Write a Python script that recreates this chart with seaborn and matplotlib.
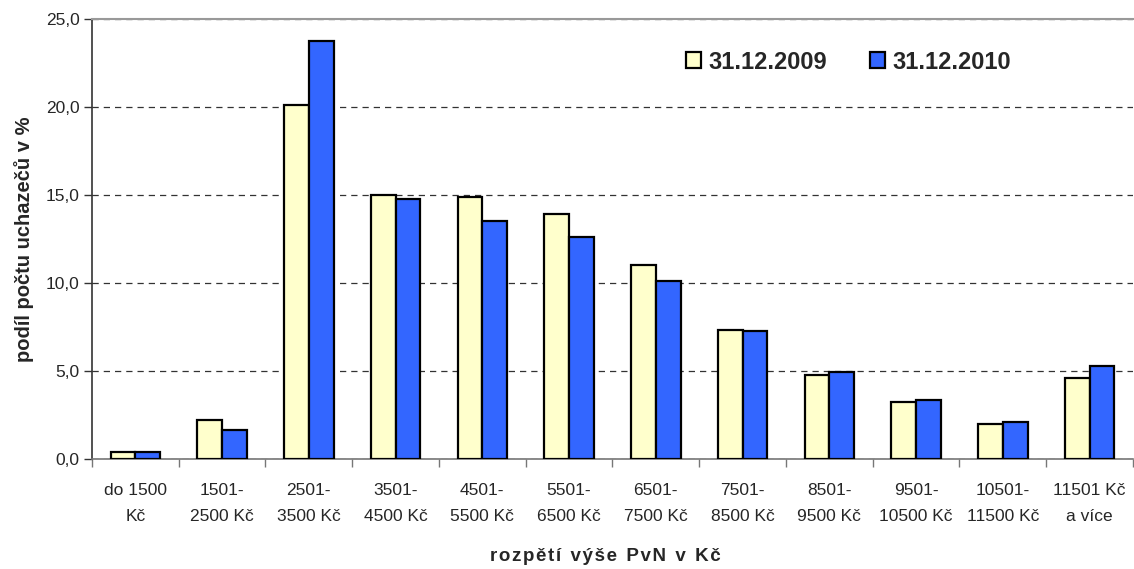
import numpy as np
import pandas as pd
import matplotlib
matplotlib.use("Agg")
import matplotlib.pyplot as plt
import seaborn as sns
from matplotlib.ticker import FuncFormatter, FixedLocator

categories = ["do 1500\nKč", "1501-\n2500 Kč", "2501-\n3500 Kč", "3501-\n4500 Kč",
              "4501-\n5500 Kč", "5501-\n6500 Kč", "6501-\n7500 Kč", "7501-\n8500 Kč",
              "8501-\n9500 Kč", "9501-\n10500 Kč", "10501-\n11500 Kč", "11501 Kč\na více"]
values_2009 = [0.4, 2.2, 20.1, 15.0, 14.9, 13.9, 11.0, 7.35, 4.75, 3.25, 2.0, 4.6]
values_2010 = [0.4, 1.65, 23.75, 14.8, 13.5, 12.6, 10.1, 7.25, 4.95, 3.35, 2.1, 5.3]
series = ["31.12.2009", "31.12.2010"]
colors = ["#FFFFCC", "#3366FF"]

df = pd.DataFrame({
    "kategorie": categories * 2,
    "podil": values_2009 + values_2010,
    "stav": [series[0]] * len(categories) + [series[1]] * len(categories),
})

sns.set_style("white")
plt.rcParams["font.family"] = ["Liberation Sans", "DejaVu Sans"]

fig = plt.figure(figsize=(11.34, 5.69), dpi=100)
ax = fig.add_axes([0.0811, 0.1933, 0.918, 0.7733])

sns.barplot(data=df, x="kategorie", y="podil", hue="stav", palette=colors,
            saturation=1, width=0.57, edgecolor="black", linewidth=1.6,
            ax=ax, zorder=3)

ax.set_ylim(0, 25)
ax.set_xlim(-0.5, len(categories) - 0.5)
ax.set_yticks(np.arange(0, 26, 5))
ax.yaxis.set_major_formatter(FuncFormatter(lambda v, p: f"{v:.1f}".replace(".", ",")))
ax.yaxis.grid(True, linestyle=(0, (5, 4)), color="#333333", linewidth=0.9, zorder=0)
ax.xaxis.grid(False)

ax.set_xticks(range(len(categories)))
ax.set_xticklabels(categories)
ax.tick_params(axis="y", left=True, length=6, width=1, color="#333333",
               labelsize=12.5, pad=3)
ax.tick_params(axis="x", which="major", length=0, labelsize=12.5, pad=17)
ax.xaxis.set_minor_locator(FixedLocator(np.arange(-0.5, len(categories), 1)))
ax.tick_params(axis="x", which="minor", bottom=True, length=6, width=1, color="#777777")

ax.spines["left"].set_color("#333333")
ax.spines["left"].set_linewidth(1.2)
ax.spines["bottom"].set_color("#777777")
ax.spines["bottom"].set_linewidth(1.2)
ax.spines["top"].set_color("#999999")
ax.spines["top"].set_linewidth(1.5)
ax.spines["right"].set_visible(False)

ax.set_ylabel("podíl počtu uchazečů v %", fontsize=14.5, fontweight="bold", labelpad=8)
ax.set_xlabel("r o z p ě t í  v ý š e  P v N  v  K č".replace("  ", "\u2002").replace(" ", "\u200a"),
              fontsize=13.5, fontweight="bold")
ax.xaxis.set_label_coords((605 - 92) / 1041, -(556 - 459) / 440)
ax.xaxis.label.set_va("center")

leg = ax.legend(loc="center left", bbox_to_anchor=((686 - 92) / 1041, (459 - 62) / 440),
                ncol=2, frameon=False, prop={"size": 17, "weight": "bold"},
                handlelength=0.65, handleheight=0.65, handletextpad=0.3,
                columnspacing=1.8, borderpad=0, borderaxespad=0)

# two-line category labels need wider spacing, set right before saving
for lab in ax.get_xticklabels():
    lab.set_linespacing(1.95)

fig.savefig("out.png", dpi=100)
